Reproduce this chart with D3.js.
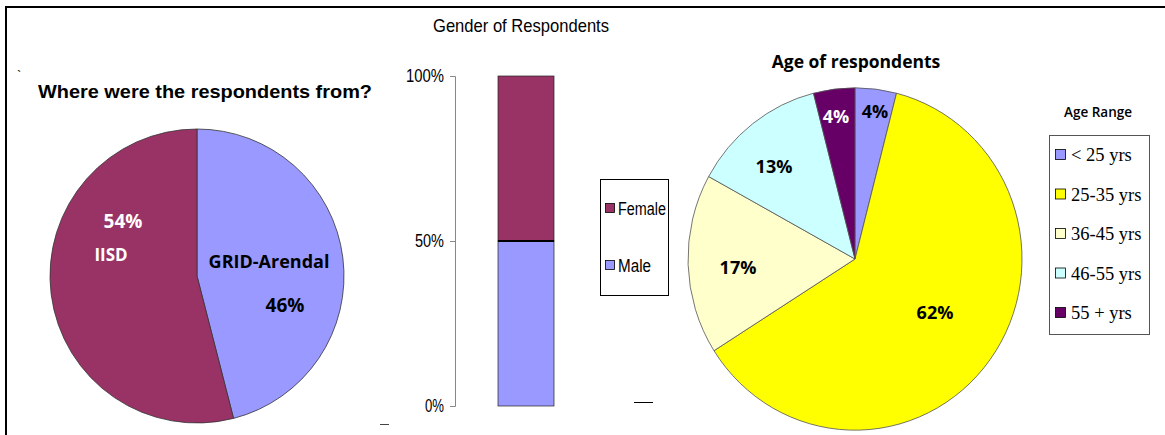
<!DOCTYPE html>
<html>
<head>
<meta charset="utf-8">
<script src="https://cdn.jsdelivr.net/npm/d3@7"></script>
<style>
  body { margin: 0; background: #fff; }
  svg { display: block; }
</style>
</head>
<body>
<svg id="chart" width="1165" height="435"></svg>
<script>
// ---- data ----
const originCategories = ["GRID-Arendal", "IISD"];
const originValues = [46, 54];
const originColors = ["#9999FF", "#993366"];

const genderCategories = ["Male", "Female"];
const genderValues = [50, 50];
const genderColors = ["#9999FF", "#993366"];
const genderTicks = [0, 50, 100];

const ageCategories = ["< 25 yrs", "25-35 yrs", "36-45 yrs", "46-55 yrs", "55 + yrs"];
const ageValues = [4, 62, 17, 13, 4];
const ageColors = ["#9999FF", "#FFFF00", "#FFFFCC", "#CCFFFF", "#660066"];

const svg = d3.select("#chart");
const labelFont = "'Open Sans', 'DejaVu Sans', sans-serif";
const narrowFont = "'Liberation Sans Narrow', 'Arial Narrow', 'Liberation Sans', sans-serif";

// frame
svg.append("line").attr("x1", 5).attr("x2", 1165).attr("y1", 7).attr("y2", 7).attr("stroke", "#000").attr("stroke-width", 2);
svg.append("line").attr("x1", 6).attr("x2", 6).attr("y1", 6).attr("y2", 435).attr("stroke", "#000").attr("stroke-width", 2);

// ---- left pie: origin ----
const pie = d3.pie().sort(null).value(d => d);
const originG = svg.append("g").attr("transform", "translate(197,276)");
const originArc = d3.arc().innerRadius(0).outerRadius(147);
originG.selectAll("path").data(pie(originValues)).join("path")
  .attr("d", originArc)
  .attr("fill", (d, i) => originColors[i])
  .attr("stroke", "#333").attr("stroke-width", 0.8);

svg.append("text").attr("x", 38).attr("y", 98).text("Where were the respondents from?")
  .attr("font-family", "'Liberation Sans', Arial, sans-serif").attr("font-weight", "bold").attr("font-size", 19)
  .attr("textLength", 334).attr("lengthAdjust", "spacingAndGlyphs");
svg.append("text").attr("x", 17).attr("y", 80).text("`").attr("font-size", 13).attr("font-family", "'Liberation Sans', sans-serif");

// origin labels
const originLabelPos = [
  {name: [269, 268], pct: [285, 312], nameSize: 18},
  {name: [111, 261], pct: [123, 228], nameSize: 17}
];
originCategories.forEach((c, i) => {
  const col = i === 1 ? "#fff" : "#000";
  svg.append("text").attr("x", originLabelPos[i].name[0]).attr("y", originLabelPos[i].name[1])
    .attr("text-anchor", "middle").text(c)
    .attr("font-family", labelFont).attr("font-weight", "bold")
    .attr("font-size", originLabelPos[i].nameSize).attr("fill", col);
  svg.append("text").attr("x", originLabelPos[i].pct[0]).attr("y", originLabelPos[i].pct[1])
    .attr("text-anchor", "middle").text(originValues[i] + "%")
    .attr("font-family", labelFont).attr("font-weight", "bold")
    .attr("font-size", 19).attr("fill", col);
});

// ---- middle: gender stacked bar ----
svg.append("text").attr("x", 521).attr("y", 32).attr("text-anchor", "middle")
  .text("Gender of Respondents").attr("font-family", narrowFont).attr("font-size", 18.5)
  .attr("textLength", 176).attr("lengthAdjust", "spacingAndGlyphs");

const y = d3.scaleLinear().domain([0, 100]).range([406, 76]);
const yAxis = d3.axisLeft(y).tickValues(genderTicks).tickFormat(d => d + "%").tickSize(5).tickPadding(6);
const axG = svg.append("g").attr("transform", "translate(455,0)").call(yAxis);
axG.select(".domain").attr("stroke", "#888");
axG.selectAll(".tick line").attr("stroke", "#888");
axG.selectAll(".tick text").attr("font-family", narrowFont).attr("font-size", 17.5).attr("fill", "#000")
  .attr("textLength", d => d === 100 ? 38 : d === 50 ? 29 : 19).attr("lengthAdjust", "spacingAndGlyphs");

const x = d3.scaleBand().domain(["all"]).range([470, 582]).paddingInner(0).paddingOuter(0.5);
let cum = 0;
const stacks = genderValues.map((v, i) => { const s = {y0: cum, y1: cum + v, i}; cum += v; return s; });
svg.selectAll(".bar").data(stacks).join("rect")
  .attr("x", x("all")).attr("width", x.bandwidth())
  .attr("y", d => y(d.y1)).attr("height", d => y(d.y0) - y(d.y1))
  .attr("fill", d => genderColors[d.i]).attr("stroke", "#222").attr("stroke-width", 0.7);
svg.append("line").attr("x1", x("all")).attr("x2", x("all") + x.bandwidth())
  .attr("y1", y(50)).attr("y2", y(50)).attr("stroke", "#000").attr("stroke-width", 2);

// gender legend
const gl = svg.append("g");
gl.append("rect").attr("x", 600.5).attr("y", 179.5).attr("width", 68).attr("height", 116)
  .attr("fill", "#fff").attr("stroke", "#000").attr("stroke-width", 1);
const genderLegendOrder = [1, 0];
genderLegendOrder.forEach((idx, k) => {
  const yy = 210 + k * 57;
  gl.append("rect").attr("x", 605.5).attr("y", yy - 6.5).attr("width", 9).attr("height", 9)
    .attr("fill", genderColors[idx]).attr("stroke", "#000").attr("stroke-width", 0.8);
  gl.append("text").attr("x", 618).attr("y", yy + 5).text(genderCategories[idx])
    .attr("font-family", narrowFont).attr("font-size", 17.5)
    .attr("textLength", idx === 1 ? 48 : 33).attr("lengthAdjust", "spacingAndGlyphs");
});
// stray dashes
svg.append("line").attr("x1", 380).attr("x2", 389).attr("y1", 424.5).attr("y2", 424.5).attr("stroke", "#444");
svg.append("line").attr("x1", 634).attr("x2", 653).attr("y1", 402.5).attr("y2", 402.5).attr("stroke", "#000");

// ---- right pie: age ----
svg.append("text").attr("x", 856).attr("y", 68).attr("text-anchor", "middle")
  .text("Age of respondents").attr("font-family", labelFont).attr("font-weight", "bold").attr("font-size", 17.5);

const ageG = svg.append("g").attr("transform", "translate(855,259) scale(1,1.025)");
const ageArc = d3.arc().innerRadius(0).outerRadius(167);
const agePie = pie(ageValues);
ageG.selectAll("path").data(agePie).join("path")
  .attr("d", ageArc)
  .attr("fill", (d, i) => ageColors[i])
  .attr("stroke", "#555").attr("stroke-width", 0.8);

const ageLabelPos = [[875, 118], [935, 319], [738, 274], [774, 173], [836, 123]];
agePie.forEach((d, i) => {
  svg.append("text").attr("x", ageLabelPos[i][0]).attr("y", ageLabelPos[i][1])
    .attr("text-anchor", "middle").text(ageValues[i] + "%")
    .attr("font-family", labelFont).attr("font-weight", "bold").attr("font-size", 18)
    .attr("fill", i === 4 ? "#fff" : "#000");
});

// age legend
svg.append("text").attr("x", 1098).attr("y", 117).attr("text-anchor", "middle")
  .text("Age Range").attr("font-family", labelFont).attr("font-weight", "600").attr("font-size", 13.5);
const al = svg.append("g");
al.append("rect").attr("x", 1049.5).attr("y", 135.5).attr("width", 100).attr("height", 199)
  .attr("fill", "#fff").attr("stroke", "#555").attr("stroke-width", 1);
ageCategories.forEach((c, i) => {
  const yy = 155 + i * 39.5;
  al.append("rect").attr("x", 1055.5).attr("y", yy - 5.5).attr("width", 10).attr("height", 10)
    .attr("fill", ageColors[i]).attr("stroke", "#000").attr("stroke-width", 0.8);
  al.append("text").attr("x", 1071).attr("y", yy + 6).text(c)
    .attr("font-family", "'Liberation Serif', 'Times New Roman', serif").attr("font-size", 18.5);
});
</script>
</body>
</html>
